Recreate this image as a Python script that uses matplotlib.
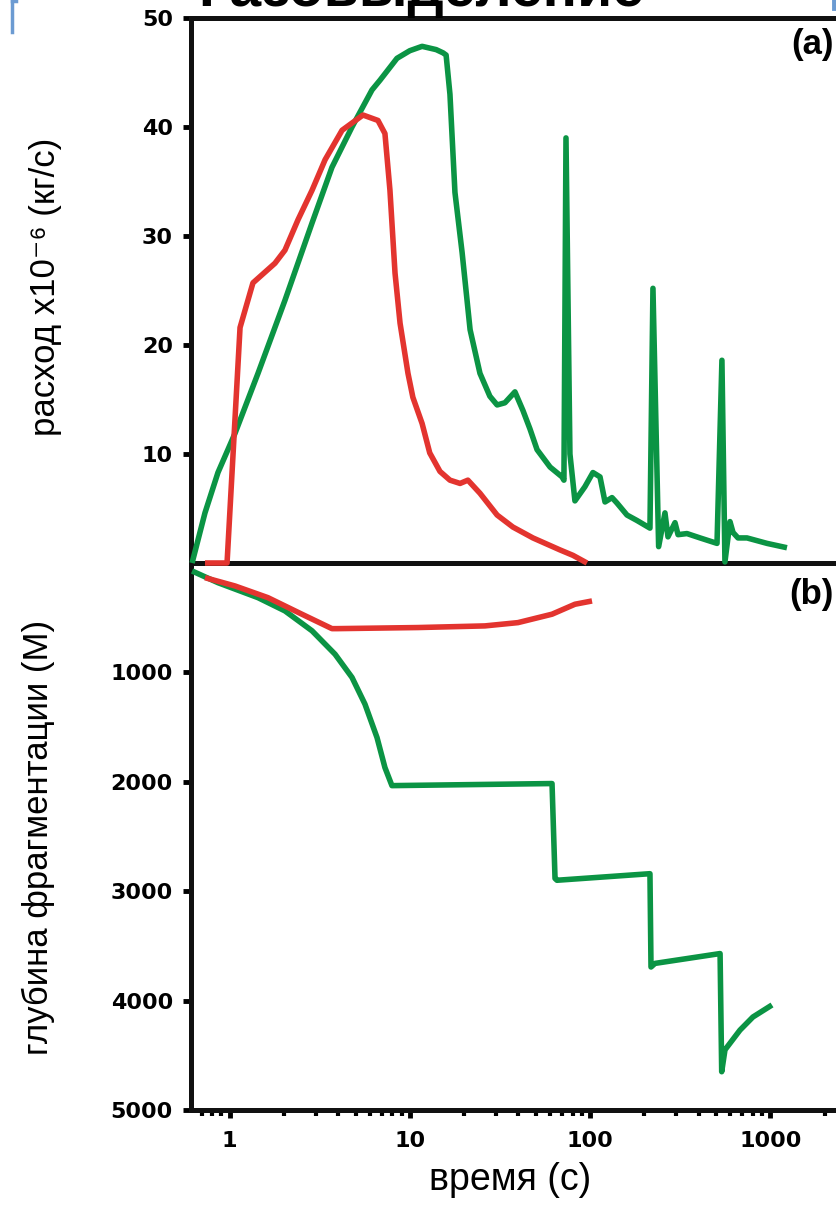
import matplotlib
matplotlib.use("Agg")
import matplotlib.pyplot as plt
from matplotlib.ticker import LogLocator, NullFormatter, FixedLocator, FixedFormatter
from matplotlib.lines import Line2D
from matplotlib.font_manager import FontProperties

# ---------------- data ----------------
# panel (a): gas flux x1e-6 (kg/s) vs time (s)
red_t_a = [0.731, 0.969, 1.144, 1.349, 1.787, 2.03, 2.40, 2.87, 3.39, 4.21, 5.50,
           6.66, 7.28, 7.76, 8.28, 8.83, 9.77, 10.4, 11.7, 12.9, 14.7, 16.7, 19.0,
           21.0, 24.5, 30.5, 37.3, 48.2, 68.1, 80.4, 96.1]
red_q = [0, 0, 21.6, 25.7, 27.5, 28.7, 31.5, 34.2, 37.0, 39.7, 41.1,
         40.6, 39.4, 34.2, 26.6, 22.0, 17.4, 15.2, 12.8, 10.1, 8.4, 7.6, 7.3,
         7.6, 6.4, 4.4, 3.3, 2.3, 1.2, 0.7, 0.0]

green_t_a = [0.620, 0.731, 0.863, 1.073, 1.439, 2.03, 2.87, 3.70, 4.78, 6.17,
             6.84, 8.49, 10.0, 11.7, 14.0, 15.3, 15.9, 16.7, 17.8, 19.5,
             21.6, 24.5, 27.8, 30.5, 33.7, 38.3, 42.4, 46.4, 50.8, 60.0,
             69.9, 71.6, 73.5, 77.3, 82.4, 93.6, 103.7, 113.5, 121.0, 132.3,
             141.0, 160.2, 182.0, 214.8, 223.2, 240.0, 260.2, 270.4, 295.8, 307.5,
             344.6, 407.4, 505.8, 538.6, 559.7, 596.9, 620.6, 661.4, 741.8, 957.6,
             1236.0]
green_q = [0, 4.6, 8.3, 11.9, 17.4, 24.1, 31.2, 36.3, 40.0, 43.4,
           44.3, 46.3, 47.0, 47.4, 47.1, 46.8, 46.6, 43.0, 34.0, 28.5,
           21.4, 17.4, 15.3, 14.5, 14.7, 15.7, 14.0, 12.3, 10.4, 8.8,
           7.9, 7.6, 39.0, 10.0, 5.7, 7.0, 8.3, 7.9, 5.6, 6.0,
           5.5, 4.4, 3.9, 3.2, 25.2, 1.5, 4.6, 2.4, 3.7, 2.6,
           2.7, 2.3, 1.8, 18.6, 0.1, 3.8, 2.8, 2.3, 2.3, 1.8,
           1.4]

# panel (b): fragmentation depth (m) vs time (s)
red_t_b = [0.731, 1.073, 1.635, 2.52, 3.70, 3.95, 11.1, 26.1, 39.8, 61.5, 82.4, 102.5]
red_d = [134, 210, 317, 468, 600, 600, 590, 575, 545, 468, 377, 347]

green_t_b = [0.620, 0.863, 1.439, 2.03, 2.87, 3.85, 4.78, 5.64, 6.58, 7.28, 7.96,
             61.5, 63.9, 65.5, 214.8, 217.7, 229.0, 526.0, 537.0, 560.0, 678.0,
             800.0, 1021.0]
green_d = [73, 180, 317, 438, 620, 834, 1046, 1290, 1596, 1870, 2035,
           2016, 2883, 2900, 2840, 3693, 3660, 3570, 4650, 4450, 4270,
           4150, 4040]

x_ticks = [1, 10, 100, 1000]
x_tick_labels = ["1", "10", "100", "1000"]
ya_ticks = [10, 20, 30, 40, 50]
yb_ticks = [1000, 2000, 3000, 4000, 5000]

title = "Газовыделение"
ylabel_a = "расход x10⁻⁶ (кг/с)"
ylabel_b = "глубина фрагментации (М)"
xlabel = "время (с)"

# ---------------- style ----------------
GREEN = "#0b9444"
RED = "#e3342f"
BLUE = "#6c9bd2"
LW = 4.0
SPW = 3.6
TICKFP = FontProperties(family=["DejaVu Sans"], weight="bold", size=16)
LABFONT = ["Liberation Sans", "DejaVu Sans"]

W, H = 836, 1207
fig = plt.figure(figsize=(W / 100, H / 100), dpi=100)


def fx(px):
    return px / W


def fy(py):
    return 1 - py / H


x_left, x_right = 191, 856.4
y_top, y_mid, y_bot = 18, 563, 1110
ax2 = fig.add_axes([fx(x_left), fy(y_bot), (x_right - x_left) / W, (y_bot - y_mid) / H])
ax1 = fig.add_axes([fx(x_left), fy(y_mid), (x_right - x_left) / W, (y_mid - y_top) / H])

for ax in (ax1, ax2):
    ax.set_xscale("log")
    ax.set_xlim(0.6115, 3000)
    ax.patch.set_visible(False)
    for s in ax.spines.values():
        s.set_linewidth(SPW)
        s.set_color("#111111")

line_kw = dict(lw=LW, zorder=3, clip_on=False, solid_joinstyle="round",
               solid_capstyle="butt")

# panel a
ax1.plot(green_t_a, green_q, color=GREEN, **line_kw)
ax1.plot(red_t_a, red_q, color=RED, **line_kw)
ax1.set_ylim(0, 50)
ax1.yaxis.set_major_locator(FixedLocator(ya_ticks))
ax1.set_yticklabels([str(v) for v in ya_ticks])
ax1.tick_params(axis="x", which="both", bottom=False, top=False, labelbottom=False)

# panel b
ax2.plot(green_t_b, green_d, color=GREEN, **line_kw)
ax2.plot(red_t_b, red_d, color=RED, **line_kw)
ax2.set_ylim(5000, 0)
ax2.yaxis.set_major_locator(FixedLocator(yb_ticks))
ax2.set_yticklabels([str(v) for v in yb_ticks])
ax2.xaxis.set_major_locator(FixedLocator(x_ticks))
ax2.xaxis.set_major_formatter(FixedFormatter(x_tick_labels))
ax2.xaxis.set_minor_locator(LogLocator(base=10, subs=range(2, 10), numticks=20))
ax2.xaxis.set_minor_formatter(NullFormatter())

for ax in (ax1, ax2):
    ax.tick_params(axis="y", which="major", direction="out", length=6, width=3.5,
                   pad=7, right=False)
    for lab in ax.get_yticklabels():
        lab.set_fontproperties(TICKFP)
ax2.tick_params(axis="x", which="major", direction="out", length=6, width=3.5, pad=9, top=False)
ax2.tick_params(axis="x", which="minor", direction="out", length=4, width=3.0, top=False)
for lab in ax2.get_xticklabels():
    lab.set_fontproperties(TICKFP)

# panel tags
fig.text(fx(791), fy(28), "(a)", ha="left", va="top", family=LABFONT,
         weight="bold", size=25)
fig.text(fx(789), fy(578), "(b)", ha="left", va="top", family=LABFONT,
         weight="bold", size=25)

# axis labels
fig.text(fx(46), fy(287), ylabel_a, rotation=90, ha="center", va="center",
         family=LABFONT, size=25)
fig.text(fx(38), fy(837), ylabel_b, rotation=90, ha="center", va="center",
         family=LABFONT, size=25)
fig.text(fx(510), fy(1180), xlabel, ha="center", va="center",
         family=LABFONT, size=27)

# title, cropped by the top edge as in the source slide
fig.text(fx(421), fy(6), title, ha="center", va="baseline", family=LABFONT,
         weight="bold", size=41)

# slide-edge blue marks
fig.add_artist(Line2D([fx(12), fx(12)], [fy(0), fy(32)], color=BLUE, lw=2.5))
fig.add_artist(Line2D([fx(12), fx(16)], [fy(1), fy(1)], color=BLUE, lw=2.5))
fig.add_artist(Line2D([fx(834), fx(834)], [fy(0), fy(8)], color=BLUE, lw=3.5))

fig.savefig("out.png", dpi=100)
